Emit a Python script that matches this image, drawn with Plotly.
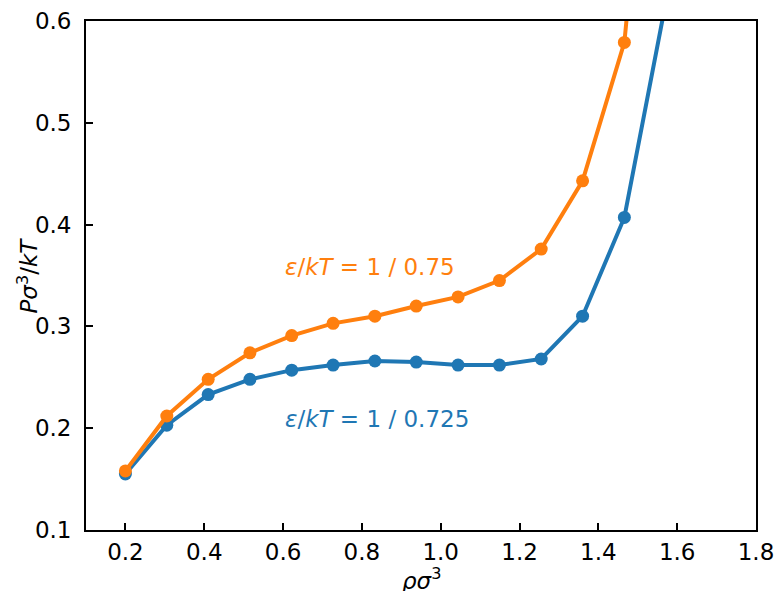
import plotly.graph_objects as go

rho = [0.2, 0.305, 0.41, 0.516, 0.622, 0.727, 0.833, 0.938, 1.044, 1.149, 1.255, 1.36, 1.466, 1.571]
p_725 = [0.155, 0.203, 0.233, 0.248, 0.257, 0.262, 0.266, 0.265, 0.262, 0.262, 0.268, 0.310, 0.407, 0.618]
p_75 = [0.158, 0.212, 0.248, 0.274, 0.291, 0.303, 0.310, 0.320, 0.329, 0.345, 0.376, 0.443, 0.579, 1.0]

blue = "#1f77b4"
orange = "#ff7f0e"
font = "DejaVu Sans"
fs = 23

fig = go.Figure()
fig.add_trace(go.Scatter(x=rho, y=p_725, mode="lines+markers",
                         line=dict(color=blue, width=4), marker=dict(size=13, color=blue),
                         cliponaxis=True, showlegend=False))
fig.add_trace(go.Scatter(x=rho, y=p_75, mode="lines+markers",
                         line=dict(color=orange, width=4), marker=dict(size=13, color=orange),
                         cliponaxis=True, showlegend=False))

fig.add_annotation(x=0.6, y=0.358, xref="x", yref="y", xanchor="left", yanchor="middle",
                   text="<i>ε</i>/<i>kT</i> = 1 / 0.75", showarrow=False,
                   font=dict(family=font, size=fs, color=orange))
fig.add_annotation(x=0.6, y=0.209, xref="x", yref="y", xanchor="left", yanchor="middle",
                   text="<i>ε</i>/<i>kT</i> = 1 / 0.725", showarrow=False,
                   font=dict(family=font, size=fs, color=blue))

# axis titles
fig.add_annotation(x=0.5, y=-0.097, xref="paper", yref="paper", xanchor="center", yanchor="middle",
                   text="<i>ρσ</i><sup>3</sup>", showarrow=False,
                   font=dict(family=font, size=fs, color="black"))
fig.add_annotation(x=-0.088, y=0.5, xref="paper", yref="paper", xanchor="center", yanchor="middle",
                   text="<i>Pσ</i><sup>3</sup>/<i>kT</i>", showarrow=False, textangle=-90,
                   font=dict(family=font, size=fs, color="black"))

fig.update_layout(
    width=777, height=591,
    margin=dict(l=86, r=21, t=21, b=61),
    paper_bgcolor="white", plot_bgcolor="white",
    font=dict(family=font, size=fs, color="black"),
)
fig.update_xaxes(range=[0.1, 1.8], tickvals=[0.2, 0.4, 0.6, 0.8, 1.0, 1.2, 1.4, 1.6, 1.8],
                 tickformat=".1f", ticks="inside", ticklen=7, tickwidth=1.5, tickcolor="black",
                 ticklabelstandoff=0,
                 showline=True, linecolor="black", linewidth=1.8, mirror=True,
                 showgrid=False, zeroline=False, automargin=False)
fig.update_yaxes(range=[0.1, 0.6], tickvals=[0.1, 0.2, 0.3, 0.4, 0.5, 0.6],
                 tickformat=".1f", ticks="inside", ticklen=7, tickwidth=1.5, tickcolor="black",
                 ticklabelstandoff=8,
                 showline=True, linecolor="black", linewidth=1.8, mirror=True,
                 showgrid=False, zeroline=False, automargin=False)

fig.write_html("out.html", config={"displayModeBar": False},
               post_script="document.body.style.margin='0';")
